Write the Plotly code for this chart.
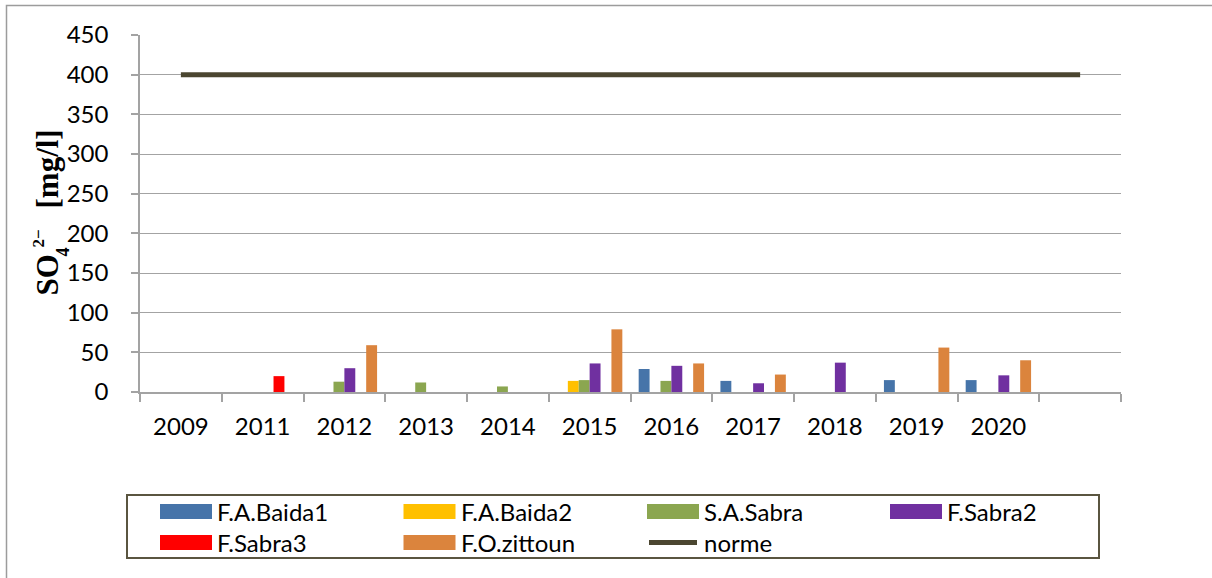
import plotly.graph_objects as go

# --- data -------------------------------------------------------------
years = ["2009", "2011", "2012", "2013", "2014", "2015", "2016",
         "2017", "2018", "2019", "2020", " "]

fa_baida1 = [None, None, None, None, None, None, 29, 14, None, 15, 15, None]
fa_baida2 = [None, None, None, None, None, 14, None, None, None, None, None, None]
sa_sabra = [None, None, 13, 12, 7, 15, 14, None, None, None, None, None]
f_sabra2 = [None, None, 30, None, None, 36, 33, 11, 37, None, 21, None]
f_sabra3 = [None, 20, None, None, None, None, None, None, None, None, None, None]
fo_zittoun = [None, None, 59, None, None, 79, 36, 22, None, 56, 40, None]
norme = [400] * len(years)

series_names = ["F.A.Baida1", "F.A.Baida2", "S.A.Sabra", "F.Sabra2",
                "F.Sabra3", "F.O.zittoun"]
series_values = [fa_baida1, fa_baida2, sa_sabra, f_sabra2, f_sabra3, fo_zittoun]
series_colors = ["#4674A9", "#FFC000", "#8BA650", "#7030A0", "#FF0000", "#DB843D"]
norme_name = "norme"
norme_color = "#4B4630"

# y-axis title pieces: (text, font size, centre x px, centre y px)
title_parts = [
    ("SO", 31, 46.5, 275),
    ("4", 18, 62, 252.5),
    ("2−", 17, 38, 238.5),
    ("[mg/l]", 31, 46.5, 169),
]

# --- geometry of the page ---------------------------------------------
W, H = 1212, 578
PL, PR, PT, PB = 140, 1121, 35, 392          # plot area in pixels
TICK_FONT = "Lato, Roboto, sans-serif"
FONT_SIZE = 24
GRID = "#A3A3A3"


def px(x):
    return (x - PL) / (PR - PL)


def py(y):
    return (PB - y) / (PB - PT)


fig = go.Figure()

for name, vals, col in zip(series_names, series_values, series_colors):
    fig.add_trace(go.Bar(x=years, y=vals, name=name, marker_color=col,
                         marker_line_width=0, showlegend=False))

fig.add_trace(go.Scatter(x=years, y=norme, name=norme_name, mode="lines",
                         line=dict(color=norme_color, width=5),
                         showlegend=False))

shapes = []
annotations = []

# outer frame (left and top edges)
shapes.append(dict(type="path", xref="paper", yref="paper",
                   path=f"M {px(6.5)},{py(578)} L {px(6.5)},{py(5.5)} L {px(1212)},{py(5.5)}",
                   line=dict(color="#9C9C9C", width=1.5)))

# legend box
shapes.append(dict(type="rect", xref="paper", yref="paper",
                   x0=px(127), x1=px(1099), y0=py(558), y1=py(495),
                   line=dict(color="#5A5540", width=2), fillcolor="white"))

col_x = [160, 403.5, 647, 890]
row_y = [511.5, 542.5]
legend_items = list(zip(series_names, series_colors)) + [(norme_name, norme_color)]
for i, (name, col) in enumerate(legend_items):
    cx = col_x[i % 4]
    cy = row_y[i // 4]
    if name == norme_name:
        shapes.append(dict(type="line", xref="paper", yref="paper",
                           x0=px(cx + 2), x1=px(cx + 50), y0=py(cy), y1=py(cy),
                           line=dict(color=col, width=5)))
    else:
        shapes.append(dict(type="rect", xref="paper", yref="paper",
                           x0=px(cx), x1=px(cx + 52), y0=py(cy + 7.5), y1=py(cy - 7.5),
                           line=dict(width=0), fillcolor=col))
    annotations.append(dict(xref="paper", yref="paper", x=px(cx + 55), y=py(cy),
                            xanchor="left", yanchor="middle", showarrow=False,
                            text=name,
                            font=dict(family=TICK_FONT, size=FONT_SIZE, color="black")))

# y-axis title, built from its pieces so the sub/superscripts sit tightly
for text, size, cx, cy in title_parts:
    annotations.append(dict(xref="paper", yref="paper", x=px(cx), y=py(cy),
                            xanchor="center", yanchor="middle", showarrow=False,
                            textangle=-90, text=f"<b>{text}</b>",
                            font=dict(family="Liberation Serif", size=size,
                                      color="black")))

fig.update_layout(
    width=W, height=H,
    margin=dict(l=PL, r=W - PR, t=PT, b=H - PB, pad=0),
    paper_bgcolor="white", plot_bgcolor="white",
    barmode="group", bargap=0.2, bargroupgap=0,
    showlegend=False,
    shapes=shapes, annotations=annotations,
    xaxis=dict(type="category", range=[-0.5, len(years) - 0.5],
               showgrid=False, showline=True, linecolor=GRID, linewidth=1.5,
               ticks="outside", tickson="boundaries", ticklen=8,
               tickcolor=GRID, tickwidth=1.5, ticklabelstandoff=12,
               tickfont=dict(family=TICK_FONT, size=FONT_SIZE, color="black")),
    yaxis=dict(range=[0, 450], dtick=50, showgrid=True, gridcolor=GRID,
               gridwidth=1.3, zeroline=False, showline=True, linecolor=GRID,
               linewidth=1.5, ticks="outside", ticklen=7, tickcolor=GRID,
               tickwidth=1.5, ticklabelstandoff=18,
               tickfont=dict(family=TICK_FONT, size=FONT_SIZE, color="black")),
)

fig.write_html("out.html")
